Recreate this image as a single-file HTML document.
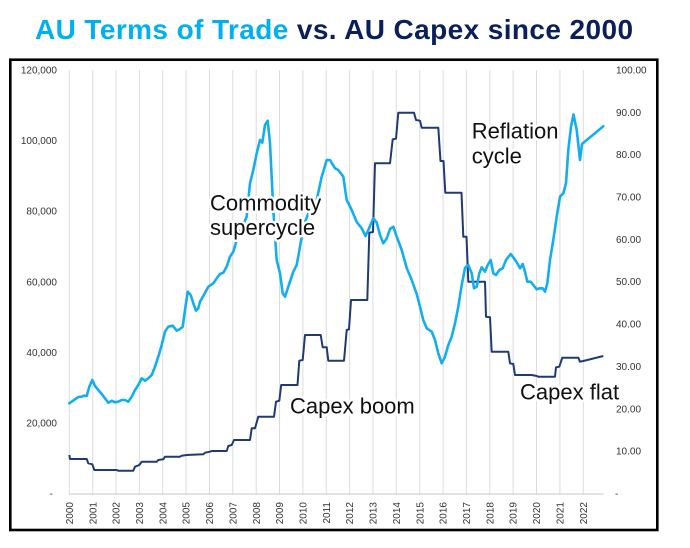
<!DOCTYPE html>
<html>
<head>
<meta charset="utf-8">
<style>
  html, body { margin:0; padding:0; background:#ffffff; }
  body { width:690px; height:548px; overflow:hidden; }
  svg { display:block; }
  .tick { font-family:"Liberation Sans", Arial, sans-serif; font-size:10px; fill:#333333; }
  .ann { font-family:"Liberation Sans", Arial, sans-serif; font-size:22px; fill:#111111;
         stroke:#ffffff; stroke-width:5px; paint-order:stroke; stroke-linejoin:round; }
  .title { font-family:"Liberation Sans", Arial, sans-serif; font-size:28px; font-weight:bold; letter-spacing:0.4px; }
</style>
</head>
<body>
<svg width="690" height="548" viewBox="0 0 690 548" xmlns="http://www.w3.org/2000/svg">
  <rect x="0" y="0" width="690" height="548" fill="#ffffff"/>

  <!-- Title -->
  <text x="35" y="39" class="title"><tspan fill="#00b0f0">AU Terms of Trade</tspan><tspan fill="#0a1f5c"> vs. AU Capex since 2000</tspan></text>

  <!-- Frame -->
  <rect x="10.3" y="59.7" width="647" height="470.3" fill="none" stroke="#000000" stroke-width="2.6"/>

  <!-- Vertical gridlines -->
  <g stroke="#dcdcdc" stroke-width="1">
    <line x1="69.3" y1="70" x2="69.3" y2="495"/>
    <line x1="92.7" y1="70" x2="92.7" y2="495"/>
    <line x1="116.0" y1="70" x2="116.0" y2="495"/>
    <line x1="139.4" y1="70" x2="139.4" y2="495"/>
    <line x1="162.7" y1="70" x2="162.7" y2="495"/>
    <line x1="186.1" y1="70" x2="186.1" y2="495"/>
    <line x1="209.5" y1="70" x2="209.5" y2="495"/>
    <line x1="232.8" y1="70" x2="232.8" y2="495"/>
    <line x1="256.2" y1="70" x2="256.2" y2="495"/>
    <line x1="279.5" y1="70" x2="279.5" y2="495"/>
    <line x1="302.9" y1="70" x2="302.9" y2="495"/>
    <line x1="326.3" y1="70" x2="326.3" y2="495"/>
    <line x1="349.6" y1="70" x2="349.6" y2="495"/>
    <line x1="373.0" y1="70" x2="373.0" y2="495"/>
    <line x1="396.3" y1="70" x2="396.3" y2="495"/>
    <line x1="419.7" y1="70" x2="419.7" y2="495"/>
    <line x1="443.1" y1="70" x2="443.1" y2="495"/>
    <line x1="466.4" y1="70" x2="466.4" y2="495"/>
    <line x1="489.8" y1="70" x2="489.8" y2="495"/>
    <line x1="513.1" y1="70" x2="513.1" y2="495"/>
    <line x1="536.5" y1="70" x2="536.5" y2="495"/>
    <line x1="559.9" y1="70" x2="559.9" y2="495"/>
    <line x1="583.3" y1="70" x2="583.3" y2="495"/>
  </g>
  <!-- X axis line -->
  <line x1="69" y1="494" x2="603.5" y2="494" stroke="#d4d4d4" stroke-width="1.2"/>

  <!-- Left axis labels -->
  <g class="tick" text-anchor="end">
    <text x="57" y="73.5">120,000</text>
    <text x="57" y="144.1">100,000</text>
    <text x="57" y="214.7">80,000</text>
    <text x="57" y="285.3">60,000</text>
    <text x="57" y="355.8">40,000</text>
    <text x="57" y="426.4">20,000</text>
  </g>
  <text class="tick" x="49.5" y="497">-</text>

  <!-- Right axis labels -->
  <g class="tick">
    <text x="616" y="73.5">100.00</text>
    <text x="616" y="115.8">90.00</text>
    <text x="616" y="158.2">80.00</text>
    <text x="616" y="200.5">70.00</text>
    <text x="616" y="242.9">60.00</text>
    <text x="616" y="285.2">50.00</text>
    <text x="616" y="327.6">40.00</text>
    <text x="616" y="369.9">30.00</text>
    <text x="616" y="412.3">20.00</text>
    <text x="616" y="454.6">10.00</text>
    <text x="615" y="497">-</text>
  </g>

  <!-- Year labels -->
  <g class="tick" text-anchor="end">
    <text transform="translate(72.9,502) rotate(-90)">2000</text>
    <text transform="translate(96.3,502) rotate(-90)">2001</text>
    <text transform="translate(119.6,502) rotate(-90)">2002</text>
    <text transform="translate(143.0,502) rotate(-90)">2003</text>
    <text transform="translate(166.3,502) rotate(-90)">2004</text>
    <text transform="translate(189.7,502) rotate(-90)">2005</text>
    <text transform="translate(213.1,502) rotate(-90)">2006</text>
    <text transform="translate(236.4,502) rotate(-90)">2007</text>
    <text transform="translate(259.8,502) rotate(-90)">2008</text>
    <text transform="translate(283.1,502) rotate(-90)">2009</text>
    <text transform="translate(306.5,502) rotate(-90)">2010</text>
    <text transform="translate(329.9,502) rotate(-90)">2011</text>
    <text transform="translate(353.2,502) rotate(-90)">2012</text>
    <text transform="translate(376.6,502) rotate(-90)">2013</text>
    <text transform="translate(399.9,502) rotate(-90)">2014</text>
    <text transform="translate(423.3,502) rotate(-90)">2015</text>
    <text transform="translate(446.7,502) rotate(-90)">2016</text>
    <text transform="translate(470.0,502) rotate(-90)">2017</text>
    <text transform="translate(493.4,502) rotate(-90)">2018</text>
    <text transform="translate(516.7,502) rotate(-90)">2019</text>
    <text transform="translate(540.1,502) rotate(-90)">2020</text>
    <text transform="translate(563.5,502) rotate(-90)">2021</text>
    <text transform="translate(586.9,502) rotate(-90)">2022</text>
  </g>

  <!-- Capex series (navy, step) -->
  <polyline fill="none" stroke="#1f3a74" stroke-width="2" stroke-linejoin="round"
    points="69.3,455 70,459 86.7,459 88.3,463.3 92.3,464.3 94.3,470 116.7,470 118.3,470.7 133.3,470.7 135,466.7 139.3,465 141.7,461.7 156.7,461.7 158.3,460 163.3,459.3 165,456.7 180,456.7 181.7,455.7 186.7,455 203.3,454.3 205,452.7 210,451.7 211.7,451 226.7,451 228.3,446 231.7,445 234,440 250,440 251.7,428.3 255,428.3 258.3,416.7 274,416.7 276,401.7 279.3,400.7 281.2,385 297.5,385 299.3,360.7 302.7,360 305,335 320.7,335 322.7,347.3 326.7,347.3 328.3,360.7 344,360.7 346.7,330 349,329.3 351,300 367.3,300 369.3,232.7 373,232 375,163.3 390,163.3 392.7,139.3 396,138.7 398.3,112.7 414,112.7 416,120 420,120.7 421.7,127.7 438.3,127.7 440.5,161 443.5,161 445.3,192.7 461.5,192.7 463.3,236.7 466.5,236.7 468.3,281.7 485,281.7 486,316.7 490,317.3 491.7,351.7 508.3,351.7 510,363.3 513.3,364 515,375 531.7,375 536.7,376 538.3,376.7 555,376.7 556,367.3 559.3,366.7 562.3,357.7 578.3,357.7 580,361.7 583.3,361 603.3,356"/>

  <!-- Terms of trade series (cyan) -->
  <polyline fill="none" stroke="#14aeef" stroke-width="2.6" stroke-linejoin="round" stroke-linecap="round"
    points="69.3,403.3 75,399.3 78.3,397 81.7,396.7 84,395.7 86.7,396 89.3,386.7 92.3,380 95,386 98.3,390 101.7,394 105,398.3 108.3,402.7 111.7,400.7 115,402.3 118.3,401.7 121.7,400 125,400 128.3,401.7 131.7,396.7 135,390 138.3,385 141.7,378.3 145,380.7 148.3,378.3 151.7,375 155,366.7 158.3,356.7 161.7,345 165,331.7 168.3,326.7 172.7,325.7 176.7,330.7 180,329 182.7,326.7 185,310 187.7,291.7 190.7,295 193.3,303.3 196,310.7 198.3,308.3 200,301.7 203.3,296 208.3,286.7 213.3,283.3 216.7,278.3 220,274 223.3,272.7 226.7,266.7 230,256.7 233.3,251.7 236.7,240 241.7,228.3 246.7,216.7 250,183.3 253.3,170 256.7,153.3 260,140 262.3,142.7 265,125 267.7,120.7 270,143.3 273.3,210 276.7,260 280,273.3 282.7,293.3 285,296.7 288.3,286.7 293.3,271.7 296.7,265 300,246.7 303.3,226.7 308.3,213.3 313.3,206.7 316.7,200 321.7,176.7 326.7,160 330,160 335,168.3 338.3,170 343.3,176.7 346.7,200 351.7,210 356.7,222 361.7,228.3 365.5,236 368.3,230 373.3,218.3 376.7,222.5 380,235 383.3,243.3 386.7,238.5 390,229 393.3,226.7 396.7,236.7 401.7,250 406.7,268 411.7,280 416.7,294 420,306.7 423.3,320 426.7,328.3 431.7,331.7 435,340 438.3,353.3 441.7,363.3 445,356.7 448.3,345 451.7,336.7 455,323.3 458.3,306.7 461.7,285 465,268 468.3,265 471.7,273.3 474,288.3 476.7,286.7 479.3,273.3 481.7,267.3 485,271.7 487.7,265 490.7,260 493.3,273.3 496,275 499.3,270 502.7,268.3 506,260 510.7,254 514,258.3 517.3,263.3 520,268.3 522.7,264 525,271.7 527.3,281.7 530.7,281.7 533.3,285 536.7,289.3 540,288.3 542.7,288.3 545,291.7 547.3,283.3 550,260 553.3,240 556.7,216.7 560,196.7 563.3,193.3 566,183.3 568.3,150 571,126.7 573.5,114.5 576.7,130 580,160 582,144 603.3,126.3"/>

  <!-- Annotations -->
  <text class="ann" x="210" y="210.7">Commodity</text>
  <text class="ann" x="210" y="235">supercycle</text>
  <text class="ann" x="471.7" y="138.3">Reflation</text>
  <text class="ann" x="471.7" y="163.3">cycle</text>
  <text class="ann" x="290" y="413.3">Capex boom</text>
  <text class="ann" x="520" y="399.3">Capex flat</text>
</svg>
</body>
</html>
